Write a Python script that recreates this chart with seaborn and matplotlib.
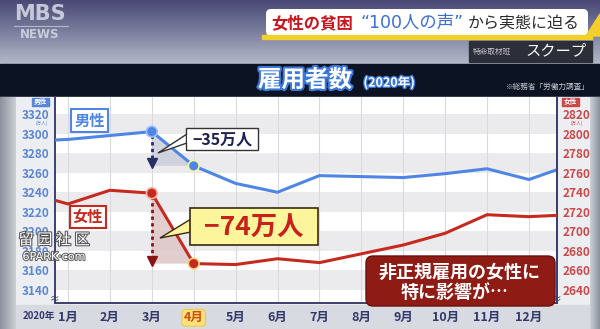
import numpy as np
import pandas as pd
import matplotlib
matplotlib.use("Agg")
import matplotlib.pyplot as plt
import seaborn as sns
from matplotlib.patches import Rectangle, FancyBboxPatch, Polygon
from matplotlib.colors import LinearSegmentedColormap
import matplotlib.patheffects as pe

sns.set_theme(style="white")
plt.rcParams['font.family'] = ['Noto Sans CJK JP', 'DejaVu Sans']

# ---------------- data ----------------
# position 0 = Dec 2019, 1..12 = Jan..Dec 2020, 13 = Jan 2021 (clipped at edges)
months = list(range(0, 14))
month_labels = ["1月", "2月", "3月", "4月", "5月", "6月",
                "7月", "8月", "9月", "10月", "11月", "12月"]
male = [3292, 3294, 3298, 3302, 3267, 3249, 3240, 3257, 3256, 3255, 3259, 3264, 3253, 3268]
female = [2740, 2728, 2742, 2739, 2667, 2666, 2672, 2668, 2677, 2686, 2698, 2717, 2715, 2717]
left_ticks = [3140, 3160, 3180, 3200, 3220, 3240, 3260, 3280, 3300, 3320]
right_ticks = [2640, 2660, 2680, 2700, 2720, 2740, 2760, 2780, 2800, 2820]

df = pd.DataFrame({"month": months, "male": male, "female": female})

BLUE = "#4f86e6"
RED = "#c62a1f"
NAVY = "#33386a"

W, H = 600, 329
fig = plt.figure(figsize=(6, 3.29), dpi=100)

# ---------------- background (pixel coords) ----------------
bg = fig.add_axes([0, 0, 1, 1], zorder=0)
bg.set_xlim(0, W); bg.set_ylim(H, 0); bg.axis("off")

hdr = LinearSegmentedColormap.from_list("hdr", ["#4a4976", "#7c7f9e", "#b3b9c8"])
grad = np.linspace(0, 1, 64).reshape(-1, 1)
bg.imshow(grad, cmap=hdr, extent=[0, W, 64, 0], aspect="auto", zorder=0)
bg.add_patch(Rectangle((0, 64), W, 33, color="#0c1322", zorder=1))
bg.add_patch(Rectangle((0, 97), W, H - 97, color="#eceef2", zorder=1))
bg.add_patch(Rectangle((0, 305), W, 24, color="#d8dae2", zorder=1))
side = LinearSegmentedColormap.from_list("side", ["#8e949e", "#c9cdd4"])
bg.imshow(np.linspace(0, 1, 16).reshape(1, -1), cmap=side, extent=[0, 16, H, 97], aspect="auto", zorder=2)
bg.imshow(np.linspace(1, 0, 10).reshape(1, -1), cmap=side, extent=[590, 600, H, 97], aspect="auto", zorder=2)
bg.set_xlim(0, W); bg.set_ylim(H, 0)

# ---------------- plot axes ----------------
x0, x1, ytop, ybot = 55, 557, 97, 303
ax = fig.add_axes([x0 / W, (H - ybot) / H, (x1 - x0) / W, (ybot - ytop) / H], zorder=2)
ax.set_facecolor("white")
ax.set_xlim(0.69, 12.67)
ax.set_ylim(3126.7, 3337.4)
for lo in range(3140, 3320, 40):
    ax.axhspan(lo, lo + 20, color="#ebebee", lw=0, zorder=0)
for m in range(1, 13):
    ax.axvline(m, color="#d9d9de", lw=0.8, zorder=0.5)

ax2 = ax.twinx()
ax2.set_ylim(2626.7, 2837.4)

sns.lineplot(data=df, x="month", y="male", ax=ax, color=BLUE, lw=2.2, zorder=3)
sns.lineplot(data=df, x="month", y="female", ax=ax2, color=RED, lw=2.2, zorder=3)

# drop shading + dotted arrows
m3, m4 = male[3], male[4]
f3, f4 = female[3], female[4]
ax.add_patch(Polygon([(3, m3), (4, m4), (3, m4)], closed=True, color="#c9ccd8", alpha=0.8, lw=0, zorder=2))
ax2.add_patch(Polygon([(3, f3), (4, f4), (3, f4)], closed=True, color="#dcc2c4", alpha=0.8, lw=0, zorder=2))
ax.plot([3, 3], [m3 - 3, m4 + 4], ls=(0, (1.2, 1.2)), lw=2, color="#2a2d66", zorder=4)
ax.plot([3], [m4 + 3], marker="v", ms=7, color="#2a2d66", zorder=4)
ax2.plot([3, 3], [f3 - 3, f4 + 4], ls=(0, (1.2, 1.2)), lw=2, color="#8a1414", zorder=4)
ax2.plot([3], [f4 + 3], marker="v", ms=7, color="#8a1414", zorder=4)

sub = df[df["month"].isin([3, 4])]
sns.scatterplot(data=sub, x="month", y="male", ax=ax, s=60, color=BLUE,
                edgecolor=["#9fc0ff", "#f1f3a0"], linewidth=1.2, zorder=5, legend=False)
sns.scatterplot(data=sub, x="month", y="female", ax=ax2, s=60, color=RED,
                edgecolor=["#f4b0a0", "#f7d67a"], linewidth=1.2, zorder=5, legend=False)

ax.set_xticks(range(1, 13))
ax.set_xticklabels(month_labels)
ax.set_yticks(left_ticks)
ax.set_yticklabels([str(v) for v in left_ticks])
ax2.set_yticks(right_ticks)
ax2.set_yticklabels([str(v) for v in right_ticks])
ax.set_xlabel(""); ax.set_ylabel(""); ax2.set_ylabel("")
ax.tick_params(axis="x", length=0, pad=6, labelsize=9, labelcolor=NAVY)
ax.tick_params(axis="y", length=0, pad=4, labelsize=8.5, labelcolor="#5a86d8")
ax2.tick_params(axis="y", length=0, pad=4, labelsize=8.5, labelcolor="#cc4848")
for lab in ax.get_xticklabels():
    lab.set_fontweight("bold")
for lab in ax.get_yticklabels() + ax2.get_yticklabels():
    lab.set_fontweight("bold")
hl = ax.get_xticklabels()[3]
hl.set_color("#d24a10")
hl.set_bbox(dict(boxstyle="round,pad=0.15,rounding_size=0.3", fc="#fbe27a", ec="#f0c84a", lw=0.8))

for a in (ax, ax2):
    a.spines["top"].set_visible(False)
    for s in ("left", "right", "bottom"):
        a.spines[s].set_color("#3c4070")
        a.spines[s].set_linewidth(1.4)
ax2.spines["left"].set_visible(False)
ax2.spines["bottom"].set_visible(False)

# ---------------- overlay (pixel coords) ----------------
ov = fig.add_axes([0, 0, 1, 1], zorder=6)
ov.set_xlim(0, W); ov.set_ylim(H, 0); ov.axis("off")
ov.patch.set_alpha(0)

# logo
ov.text(40, 14, "MBS", fontsize=15, fontweight="bold", color="#d2d5e2", ha="center", va="center",
        family=["DejaVu Sans"], alpha=0.9)
ov.plot([14, 68], [26, 26], color="#d2d5e2", lw=0.8, alpha=0.7)
ov.text(40, 34, "NEWS", fontsize=8.5, fontweight="bold", color="#d2d5e2", ha="center", va="center",
        family=["DejaVu Sans"], alpha=0.9)

# headline band
ov.add_patch(FancyBboxPatch((266, 9), 322, 27, boxstyle="round,pad=0,rounding_size=5",
                            fc="white", ec="none", zorder=1))
ov.add_patch(Rectangle((262, 35), 330, 4, color="#f2cf2a", zorder=1))
ov.add_patch(Polygon([(586, 36), (600, 14), (600, 36)], color="#f2cf2a", zorder=1))
ov.text(271, 23, "女性の貧困", fontsize=11.8, fontweight="bold", color="#c8161e", va="center", zorder=2)
ov.text(361, 23, "“100人の声”", fontsize=12.5, color="#3b6fd6", va="center", zorder=2,
        family=["DejaVu Sans", "Noto Sans CJK JP"])
ov.text(468, 23, "から実態に迫る", fontsize=11.5, color="#2b2b2b", va="center", zorder=2)

# scoop badge
ov.add_patch(Rectangle((469, 41), 123, 21, color="#2c2e3a", zorder=1))
ov.text(473, 52, "特命取材班", fontsize=5.5, color="#c8c8d0", va="center", zorder=2)
ov.text(525, 51, "スクープ", fontsize=11, color="white", va="center", style="italic", zorder=2)

# title band
ov.text(305, 80, "雇用者数", fontsize=17, fontweight="bold", color="white", ha="center", va="center",
        path_effects=[pe.withStroke(linewidth=3, foreground="#3b78d8")], zorder=3)
ov.text(389, 83, "(2020年)", fontsize=9, fontweight="bold", color="white", ha="center", va="center",
        path_effects=[pe.withStroke(linewidth=2, foreground="#3b78d8")], zorder=3)
ov.text(590, 87, "※総務省「労働力調査」", fontsize=5.5, color="#c9ccd6", ha="right", va="center")

# axis unit badges
ov.add_patch(Rectangle((32, 97.5), 17, 8.5, color="#5a86d8"))
ov.text(40.5, 101.8, "男性", fontsize=4.8, color="white", fontweight="bold", ha="center", va="center")
ov.text(42, 123.5, "(万人)", fontsize=3.3, color="#5a86d8", ha="center", va="center")
ov.add_patch(Rectangle((562, 97.5), 17, 8.5, color="#cc4848"))
ov.text(570.5, 101.8, "女性", fontsize=4.8, color="white", fontweight="bold", ha="center", va="center")
ov.text(577, 123.5, "(万人)", fontsize=3.3, color="#cc4848", ha="center", va="center")
ov.text(55, 299, "≈", fontsize=7, color=NAVY, ha="center", va="center")
ov.text(557, 299, "≈", fontsize=7, color=NAVY, ha="center", va="center")
ov.text(39, 316, "2020年", fontsize=7, fontweight="bold", color=NAVY, ha="center", va="center")

# series name boxes
ov.text(89.5, 120.5, "男性", fontsize=11, fontweight="bold", color=BLUE, ha="center", va="center",
        bbox=dict(boxstyle="square,pad=0.2", fc="white", ec=BLUE, lw=1.5))
ov.text(88, 217, "女性", fontsize=11, fontweight="bold", color=RED, ha="center", va="center",
        bbox=dict(boxstyle="square,pad=0.2", fc="white", ec=RED, lw=1.5))

# -35 callout
ov.add_patch(Polygon([(187, 134), (158, 153), (187, 143)], closed=True, fc="white", ec="#333", lw=1, zorder=3))
ov.add_patch(Rectangle((186, 128), 72, 22, fc="white", ec="#333", lw=1, zorder=4))
ov.add_patch(Rectangle((186.6, 134.5), 2, 8, fc="white", ec="none", zorder=5))
ov.text(222, 139.5, "−35万人", fontsize=11.5, fontweight="bold", color="#1d2050", ha="center", va="center", zorder=6)

# -74 callout
ov.add_patch(Polygon([(191, 219), (160, 238), (191, 232)], closed=True, fc="#fdf59c", ec="#3a2a10", lw=1, zorder=3))
ov.add_patch(Rectangle((190, 208), 128, 37, fc="#fdf59c", ec="#3a2a10", lw=1.2, zorder=4))
ov.add_patch(Rectangle((190.7, 219.6), 2, 12, fc="#fdf59c", ec="none", zorder=5))
ov.text(254, 227, "−74万人", fontsize=19, fontweight="bold", color="#c8201a", ha="center", va="center", zorder=6)

# notice box
ov.add_patch(FancyBboxPatch((366, 256), 189, 50, boxstyle="round,pad=0,rounding_size=7",
                            fc="#8e1b14", ec="#6b0f0a", lw=1, zorder=3))
ov.text(460, 272.5, "非正規雇用の女性に", fontsize=13, fontweight="bold", color="white", ha="center", va="center", zorder=4)
ov.text(455, 292, "特に影響が…", fontsize=13, fontweight="bold", color="white", ha="center", va="center", zorder=4)

# watermark
ov.text(54, 240, "留 园 社 区", fontsize=11, color="white", ha="center", va="center",
        family=["Noto Sans CJK SC", "DejaVu Sans"],
        path_effects=[pe.withStroke(linewidth=1.5, foreground="#555")], zorder=7)
ov.text(54, 257, "6PARK·com", fontsize=8, color="white", ha="center", va="center",
        family=["DejaVu Sans"], path_effects=[pe.withStroke(linewidth=1.5, foreground="#666")], zorder=7)

fig.savefig("out.png", dpi=100)
